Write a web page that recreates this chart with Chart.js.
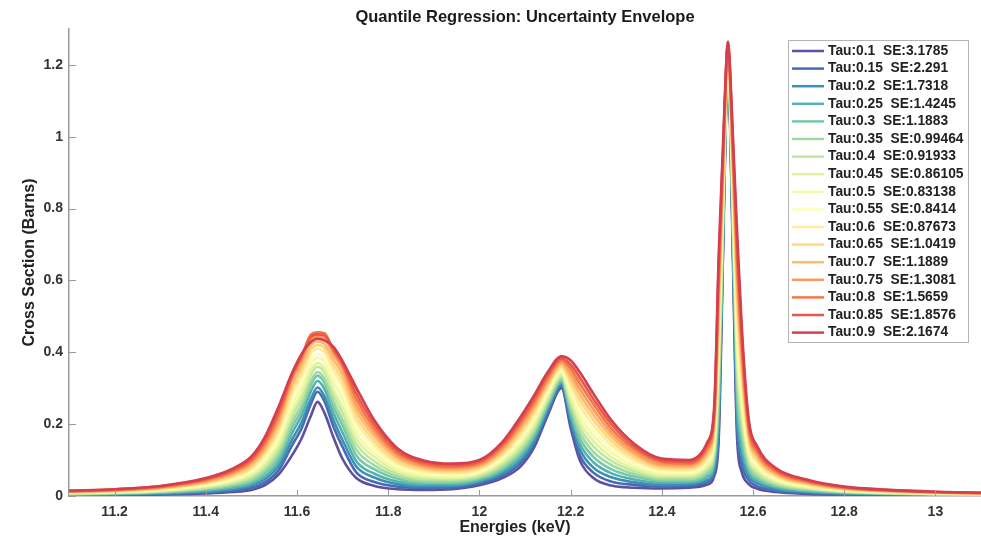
<!DOCTYPE html>
<html>
<head>
<meta charset="utf-8">
<title>Quantile Regression: Uncertainty Envelope</title>
<script src="https://cdn.jsdelivr.net/npm/chart.js@4.4.1/dist/chart.umd.min.js"></script>
<style>
  html, body { margin: 0; padding: 0; background: #fff; }
  canvas { display: block; }
</style>
</head>
<body>
<canvas id="envelope-chart" width="981" height="544"></canvas>
<script>
// energies (keV) shared by every quantile curve
const energies = [11.10, 11.20, 11.30, 11.40, 11.46, 11.50, 11.53, 11.56, 11.59, 11.61, 11.63, 11.645, 11.66, 11.68, 11.70, 11.73, 11.77, 11.82, 11.88, 11.94, 12.00, 12.05, 12.09, 12.12, 12.15, 12.18, 12.20, 12.22, 12.25, 12.29, 12.34, 12.40, 12.46, 12.50, 12.515, 12.525, 12.535, 12.54, 12.545, 12.55, 12.555, 12.565, 12.575, 12.59, 12.61, 12.65, 12.72, 12.80, 12.90, 13.00, 13.10];

// cross section (barns), one array per quantile
const tau10 = [0.002,0.003,0.004,0.007,0.011,0.017,0.030,0.060,0.115,0.160,0.222,0.262,0.232,0.163,0.103,0.050,0.028,0.019,0.017,0.019,0.030,0.050,0.082,0.135,0.225,0.300,0.190,0.100,0.050,0.029,0.023,0.021,0.023,0.032,0.056,0.165,0.720,1.020,1.220,1.020,0.720,0.165,0.068,0.034,0.020,0.011,0.006,0.004,0.003,0.002,0.002];
const tau15 = [0.003,0.004,0.006,0.010,0.015,0.023,0.038,0.072,0.143,0.188,0.255,0.290,0.264,0.193,0.136,0.066,0.039,0.026,0.022,0.023,0.034,0.056,0.091,0.144,0.233,0.306,0.202,0.115,0.065,0.040,0.031,0.026,0.028,0.039,0.066,0.190,0.738,1.029,1.223,1.030,0.739,0.194,0.090,0.045,0.027,0.015,0.008,0.005,0.004,0.003,0.002];
const tau20 = [0.004,0.005,0.007,0.012,0.019,0.029,0.047,0.084,0.159,0.205,0.269,0.302,0.278,0.211,0.155,0.082,0.051,0.033,0.027,0.028,0.039,0.063,0.099,0.153,0.240,0.311,0.214,0.131,0.079,0.052,0.038,0.031,0.033,0.045,0.075,0.216,0.755,1.039,1.226,1.040,0.759,0.224,0.113,0.056,0.035,0.019,0.011,0.007,0.005,0.003,0.003];
const tau25 = [0.004,0.006,0.009,0.015,0.023,0.034,0.055,0.096,0.177,0.224,0.290,0.320,0.298,0.231,0.176,0.097,0.062,0.040,0.032,0.032,0.043,0.069,0.108,0.162,0.248,0.317,0.225,0.146,0.094,0.063,0.046,0.037,0.037,0.053,0.088,0.249,0.773,1.048,1.228,1.050,0.778,0.261,0.139,0.067,0.042,0.024,0.013,0.008,0.006,0.004,0.003];
const tau30 = [0.005,0.007,0.010,0.018,0.028,0.040,0.064,0.108,0.193,0.240,0.308,0.335,0.315,0.249,0.196,0.113,0.074,0.048,0.037,0.037,0.048,0.075,0.117,0.171,0.255,0.322,0.237,0.161,0.109,0.074,0.054,0.042,0.042,0.060,0.100,0.283,0.790,1.058,1.231,1.060,0.798,0.298,0.165,0.079,0.049,0.028,0.016,0.010,0.007,0.005,0.004];
const tau35 = [0.006,0.008,0.012,0.020,0.032,0.046,0.072,0.119,0.207,0.254,0.319,0.345,0.327,0.264,0.212,0.129,0.085,0.055,0.042,0.041,0.052,0.081,0.125,0.180,0.263,0.328,0.249,0.177,0.123,0.086,0.061,0.047,0.047,0.068,0.113,0.316,0.808,1.067,1.234,1.070,0.817,0.334,0.191,0.091,0.057,0.032,0.018,0.011,0.007,0.005,0.004];
const tau40 = [0.007,0.009,0.013,0.023,0.036,0.052,0.081,0.131,0.223,0.271,0.337,0.360,0.344,0.281,0.231,0.145,0.096,0.062,0.047,0.046,0.056,0.088,0.134,0.189,0.270,0.333,0.261,0.192,0.138,0.097,0.069,0.052,0.052,0.075,0.125,0.349,0.825,1.076,1.237,1.080,0.836,0.371,0.218,0.103,0.064,0.036,0.021,0.012,0.008,0.006,0.005];
const tau45 = [0.008,0.010,0.015,0.026,0.040,0.058,0.089,0.143,0.237,0.285,0.349,0.370,0.355,0.297,0.247,0.160,0.108,0.069,0.052,0.050,0.061,0.094,0.142,0.198,0.278,0.339,0.272,0.207,0.153,0.108,0.076,0.057,0.057,0.083,0.138,0.382,0.843,1.086,1.240,1.090,0.856,0.408,0.244,0.114,0.071,0.040,0.023,0.014,0.009,0.006,0.005];
const tau50 = [0.009,0.011,0.016,0.029,0.044,0.064,0.098,0.155,0.255,0.303,0.366,0.385,0.373,0.317,0.269,0.176,0.119,0.076,0.058,0.055,0.065,0.100,0.151,0.208,0.285,0.345,0.284,0.223,0.168,0.120,0.084,0.063,0.062,0.090,0.150,0.415,0.860,1.095,1.243,1.100,0.875,0.445,0.270,0.126,0.079,0.045,0.026,0.015,0.010,0.007,0.006];
const tau55 = [0.009,0.012,0.018,0.031,0.048,0.069,0.106,0.167,0.269,0.318,0.378,0.395,0.384,0.332,0.285,0.192,0.130,0.083,0.063,0.059,0.069,0.106,0.160,0.217,0.293,0.350,0.296,0.238,0.182,0.131,0.092,0.068,0.066,0.098,0.163,0.448,0.878,1.104,1.245,1.110,0.894,0.482,0.296,0.138,0.086,0.049,0.028,0.016,0.011,0.008,0.006];
const tau60 = [0.010,0.013,0.019,0.034,0.052,0.075,0.114,0.179,0.285,0.334,0.395,0.410,0.401,0.350,0.304,0.208,0.142,0.090,0.068,0.063,0.074,0.113,0.168,0.226,0.300,0.356,0.308,0.253,0.197,0.142,0.099,0.073,0.071,0.105,0.175,0.481,0.895,1.114,1.248,1.120,0.914,0.519,0.323,0.150,0.093,0.053,0.030,0.018,0.012,0.008,0.006];
const tau65 = [0.011,0.014,0.021,0.037,0.056,0.081,0.123,0.191,0.299,0.348,0.407,0.420,0.413,0.365,0.321,0.223,0.153,0.097,0.073,0.068,0.078,0.119,0.177,0.235,0.308,0.361,0.319,0.268,0.212,0.153,0.107,0.078,0.076,0.113,0.188,0.514,0.913,1.123,1.251,1.130,0.933,0.556,0.349,0.161,0.100,0.057,0.033,0.019,0.013,0.009,0.007];
const tau70 = [0.012,0.015,0.022,0.039,0.061,0.087,0.131,0.203,0.313,0.362,0.419,0.430,0.424,0.380,0.337,0.239,0.165,0.105,0.078,0.072,0.083,0.125,0.186,0.244,0.315,0.367,0.331,0.284,0.226,0.165,0.115,0.083,0.081,0.120,0.200,0.548,0.930,1.133,1.254,1.140,0.953,0.593,0.375,0.173,0.108,0.061,0.035,0.021,0.014,0.010,0.007];
const tau75 = [0.013,0.016,0.024,0.042,0.065,0.093,0.140,0.214,0.327,0.376,0.436,0.445,0.441,0.395,0.353,0.255,0.176,0.112,0.083,0.077,0.087,0.131,0.194,0.253,0.323,0.372,0.343,0.299,0.241,0.176,0.122,0.088,0.086,0.128,0.213,0.581,0.948,1.142,1.257,1.150,0.972,0.629,0.401,0.185,0.115,0.065,0.038,0.022,0.014,0.010,0.008];
const tau80 = [0.013,0.017,0.025,0.045,0.069,0.098,0.148,0.226,0.336,0.386,0.449,0.456,0.453,0.405,0.364,0.271,0.187,0.119,0.088,0.081,0.091,0.138,0.203,0.262,0.330,0.378,0.355,0.314,0.256,0.187,0.130,0.094,0.090,0.135,0.225,0.614,0.965,1.151,1.259,1.160,0.991,0.666,0.428,0.197,0.122,0.070,0.040,0.023,0.015,0.011,0.008];
const tau85 = [0.014,0.018,0.027,0.047,0.073,0.104,0.157,0.238,0.340,0.390,0.442,0.450,0.447,0.410,0.370,0.286,0.199,0.126,0.093,0.086,0.096,0.144,0.211,0.271,0.338,0.383,0.366,0.330,0.270,0.199,0.137,0.099,0.095,0.143,0.238,0.647,0.983,1.161,1.262,1.170,1.011,0.703,0.454,0.208,0.130,0.074,0.043,0.025,0.016,0.011,0.009];
const tau90 = [0.015,0.019,0.028,0.050,0.077,0.110,0.165,0.250,0.345,0.395,0.428,0.438,0.433,0.415,0.375,0.302,0.210,0.133,0.098,0.090,0.100,0.150,0.220,0.280,0.345,0.389,0.378,0.345,0.285,0.210,0.145,0.104,0.100,0.150,0.250,0.680,1.000,1.170,1.265,1.180,1.030,0.740,0.480,0.220,0.137,0.078,0.045,0.026,0.017,0.012,0.009];

const taus = [0.1, 0.15, 0.2, 0.25, 0.3, 0.35, 0.4, 0.45, 0.5, 0.55, 0.6, 0.65, 0.7, 0.75, 0.8, 0.85, 0.9];
const seLabels = ["3.1785", "2.291", "1.7318", "1.4245", "1.1883", "0.99464", "0.91933", "0.86105", "0.83138", "0.8414", "0.87673", "1.0419", "1.1889", "1.3081", "1.5659", "1.8576", "2.1674"];
const lineColors = ["#5e4fa2", "#486baf", "#398fba", "#56b0ac", "#77c9a5", "#9ed8a4", "#c1e6a0", "#e2f499", "#f2faac", "#fffdbc", "#feec9c", "#fed783", "#fdba6c", "#fa9a5c", "#f57547", "#e65848", "#d53e4f"];

const xTicks = [11.2, 11.4, 11.6, 11.8, 12, 12.2, 12.4, 12.6, 12.8, 13];
const yTicks = [0, 0.2, 0.4, 0.6, 0.8, 1, 1.2];

const curves = [tau10, tau15, tau20, tau25, tau30, tau35, tau40, tau45, tau50, tau55, tau60, tau65, tau70, tau75, tau80, tau85, tau90];

const FONT = '"Liberation Sans", Arial, Helvetica, sans-serif';
const AXIS_GRAY = "#9a9a9a";

Chart.defaults.font.family = FONT;

// MATLAB style ticks pointing into the plot, plus the x axis label
const insideTicks = {
  id: "insideTicks",
  afterDraw(chart) {
    const { ctx, chartArea, scales } = chart;
    ctx.save();
    ctx.strokeStyle = AXIS_GRAY;
    ctx.lineWidth = 1;
    ctx.beginPath();
    xTicks.forEach((v) => {
      const px = Math.round(scales.x.getPixelForValue(v)) + 0.5;
      ctx.moveTo(px, chartArea.bottom);
      ctx.lineTo(px, chartArea.bottom - 6);
    });
    yTicks.forEach((v) => {
      const py = Math.round(scales.y.getPixelForValue(v)) + 0.5;
      ctx.moveTo(chartArea.left, py);
      ctx.lineTo(chartArea.left + 7, py);
    });
    ctx.stroke();

    ctx.fillStyle = "#222";
    ctx.font = "bold 16px " + FONT;
    ctx.textAlign = "center";
    ctx.textBaseline = "middle";
    ctx.fillText("Energies (keV)", chartArea.left + 446, chartArea.bottom + 32);
    ctx.restore();
  },
};

// boxed legend inside the top right of the plot
const boxLegend = {
  id: "boxLegend",
  afterDraw(chart) {
    const { ctx, chartArea } = chart;
    const right = chartArea.right - 13;
    const left = right - 180;
    const top = chartArea.top + 11;
    const rowH = 17.6;
    const height = 302;
    ctx.save();
    ctx.fillStyle = "#fff";
    ctx.fillRect(left, top, right - left, height);
    ctx.strokeStyle = "#b4b4b4";
    ctx.lineWidth = 1;
    ctx.strokeRect(Math.round(left) + 0.5, Math.round(top) + 0.5, right - left, height);
    ctx.font = "bold 13.8px " + FONT;
    ctx.textBaseline = "middle";
    ctx.textAlign = "left";
    chart.data.datasets.forEach((ds, i) => {
      const y = top + 11 + i * rowH;
      ctx.strokeStyle = ds.borderColor;
      ctx.lineWidth = 2.5;
      ctx.beginPath();
      ctx.moveTo(left + 4, y);
      ctx.lineTo(left + 36, y);
      ctx.stroke();
      ctx.fillStyle = "#222";
      ctx.fillText(ds.label, left + 40, y);
    });
    ctx.restore();
  },
};

new Chart(document.getElementById("envelope-chart"), {
  type: "line",
  data: {
    datasets: curves.map((vals, i) => ({
      label: "Tau:" + taus[i] + "  SE:" + seLabels[i],
      data: energies.map((e, j) => ({ x: e, y: vals[j] })),
      borderColor: lineColors[i],
      borderWidth: 2.6,
      pointRadius: 0,
      fill: false,
      cubicInterpolationMode: "monotone",
      borderJoinStyle: "round",
      borderCapStyle: "round",
      order: curves.length - i,
    })),
  },
  options: {
    responsive: false,
    animation: false,
    layout: { padding: 0 },
    plugins: {
      legend: { display: false },
      tooltip: { enabled: false },
      title: {
        display: true,
        text: "Quantile Regression: Uncertainty Envelope",
        fullSize: false,
        color: "#1a1a1a",
        font: { size: 16.5, weight: "bold" },
        padding: { top: 8, bottom: 1.2 },
      },
    },
    scales: {
      x: {
        type: "linear",
        min: 11.1,
        max: 13.1,
        afterBuildTicks: (s) => { s.ticks = xTicks.map((v) => ({ value: v })); },
        afterFit: (s) => { s.height = 48; },
        grid: { display: true, drawOnChartArea: false, drawTicks: false },
        border: { display: true, color: AXIS_GRAY, width: 1.5 },
        ticks: {
          color: "#333",
          font: { size: 14, weight: "bold" },
          padding: 8,
          maxRotation: 0,
          autoSkip: false,
          callback: (v) => String(v),
        },
        title: { display: false },
      },
      y: {
        type: "linear",
        min: 0,
        max: 1.3,
        afterBuildTicks: (s) => { s.ticks = yTicks.map((v) => ({ value: v })); },
        afterFit: (s) => { s.width = 69; },
        grid: { display: true, drawOnChartArea: false, drawTicks: false },
        border: { display: true, color: AXIS_GRAY, width: 1.5 },
        ticks: {
          color: "#333",
          font: { size: 14, weight: "bold" },
          padding: 6,
          autoSkip: false,
          callback: (v) => String(v),
        },
        title: {
          display: true,
          text: "Cross Section (Barns)",
          color: "#222",
          font: { size: 16, weight: "bold" },
          padding: 20,
        },
      },
    },
  },
  plugins: [insideTicks, boxLegend],
});
</script>
</body>
</html>
